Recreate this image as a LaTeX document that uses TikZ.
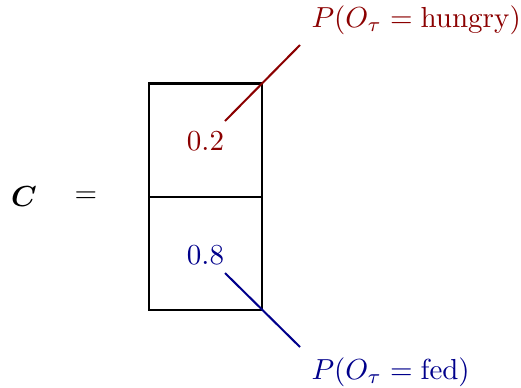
\documentclass[tikz,border=0pt]{standalone}
\usepackage{bm}
\definecolor{redc}{RGB}{139,0,0}
\definecolor{bluec}{RGB}{0,0,139}
\begin{document}
\begin{tikzpicture}[x=0.345pt,y=-0.345pt,
  cell/.style={draw=black,line width=0.7pt,minimum width=113*0.345pt,minimum height=113*0.345pt,inner sep=0pt},
  lab/.style={inner sep=0pt,anchor=west}]
\useasboundingbox (0,0) rectangle (521,387);
\node[cell] (top) at (205.5,140) {};
\node[cell] (bot) at (205.5,253) {};
\node[text=redc,inner sep=1pt] (v1) at (205.5,141) {$0.2$};
\node[text=bluec,inner sep=1pt] (v2) at (205.5,255) {$0.8$};
\node (c) at (24,197) {$\bm{C}$};
\node (eq) at (86,197) {$=$};
\coordinate (t1) at (225,121);
\coordinate (t2) at (300,45);
\coordinate (b1) at (225,273);
\coordinate (b2) at (300,347);
\draw[redc,line width=0.7pt] (t1) -- (t2);
\draw[bluec,line width=0.7pt] (b1) -- (b2);
\node[lab,text=redc] (l1) at (311,20) {$P(O_\tau = \mathrm{hungry})$};
\node[lab,text=bluec] (l2) at (311,372) {$P(O_\tau = \mathrm{fed})$};
\end{tikzpicture}
\end{document}
